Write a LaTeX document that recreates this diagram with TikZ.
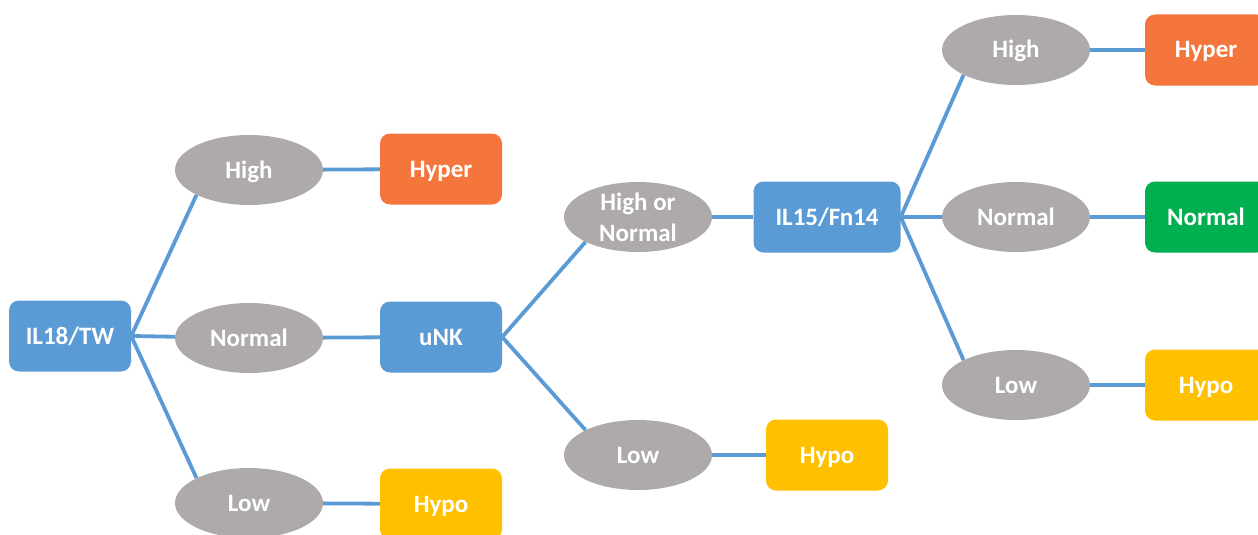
\documentclass[tikz,border=0pt]{standalone}
\usepackage{fontspec}
\setmainfont{Carlito}
\usetikzlibrary{shapes.geometric,backgrounds}
\definecolor{boxblue}{HTML}{5B9BD5}
\definecolor{ellgray}{HTML}{AEAAAA}
\definecolor{hyperorange}{HTML}{F4763D}
\definecolor{normgreen}{HTML}{00B050}
\definecolor{hypoyellow}{HTML}{FFC000}
\begin{document}
\begin{tikzpicture}[x=1pt,y=-1pt,
  lvl/.style={ellipse,fill=ellgray,text=white,font=\fontsize{25}{27}\selectfont\bfseries,minimum width=148pt,minimum height=70pt,inner sep=0pt,align=center,text height=16pt,text depth=0pt},
  res/.style={rectangle,rounded corners=10pt,text=white,font=\fontsize{25}{27}\selectfont\bfseries,minimum width=122pt,minimum height=71pt,inner sep=0pt,text height=16pt,text depth=0pt},
  link/.style={boxblue,line width=3.8pt}]
\useasboundingbox (0,0) rectangle (1258,535);
% first test
\node[res,fill=boxblue] (il18) at (70,336) {IL18/TW};
\node[lvl] (high1) at (249,170) {High};
\node[lvl] (norm1) at (249,338) {Normal};
\node[lvl] (low1) at (249,503) {Low};
\node[res,fill=hyperorange] (hyper1) at (441,169) {Hyper};
\node[res,fill=boxblue] (unk) at (441,337) {uNK};
\node[res,fill=hypoyellow] (hypo1) at (441,504) {Hypo};
% second test
\node[lvl,text height=,text depth=] (highnorm) at (638,217) {High or\\[4pt]Normal};
\node[lvl] (low2) at (638,455) {Low};
\node[res,fill=boxblue,minimum width=147pt] (il15) at (827,217) {IL15/Fn14};
\node[res,fill=hypoyellow] (hypo2) at (827,455) {Hypo};
% third test
\node[lvl] (high3) at (1016,50) {High};
\node[lvl] (norm3) at (1016,217) {Normal};
\node[lvl] (low3) at (1016,385) {Low};
\node[res,fill=hyperorange] (hyper3) at (1206,50) {Hyper};
\node[res,fill=normgreen] (norm4) at (1206,217) {Normal};
\node[res,fill=hypoyellow] (hypo3) at (1206,385) {Hypo};
\begin{scope}[on background layer]
\draw[link] (il18.east) -- (high1.south west) (il18.east) -- (norm1) (il18.east) -- (low1.north west);
\draw[link] (high1) -- (hyper1) (norm1) -- (unk) (low1) -- (hypo1);
\draw[link] (unk.east) -- (highnorm.south west) (unk.east) -- (low2.north west);
\draw[link] (highnorm) -- (il15) (low2) -- (hypo2);
\draw[link] (il15.east) -- (high3.south west) (il15.east) -- (norm3) (il15.east) -- (low3.north west);
\draw[link] (high3) -- (hyper3) (norm3) -- (norm4) (low3) -- (hypo3);
\end{scope}
\end{tikzpicture}
\end{document}
